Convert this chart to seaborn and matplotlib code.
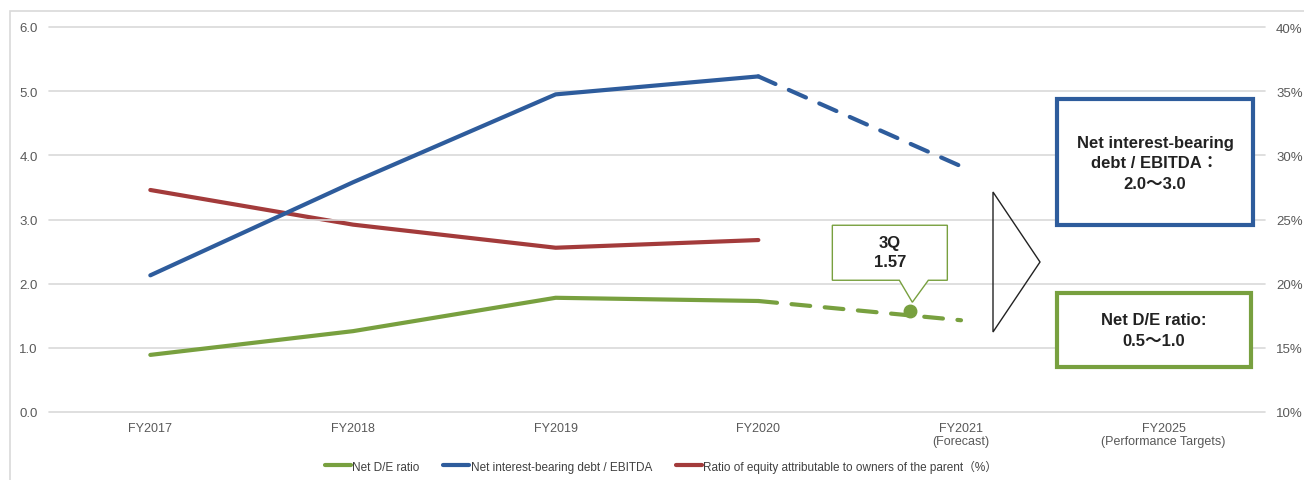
import matplotlib
matplotlib.use("Agg")
import matplotlib.pyplot as plt
import matplotlib.transforms as mtransforms
from matplotlib.patches import Rectangle, Polygon
from matplotlib.lines import Line2D
import seaborn as sns
import pandas as pd

# ---- data ----
categories = ["FY2017", "FY2018", "FY2019", "FY2020", "FY2021\n(Forecast)",
              "FY2025\n(Performance Targets)"]
net_de = [0.89, 1.26, 1.78, 1.73, 1.43]
debt_ebitda = [2.13, 3.58, 4.95, 5.23, 3.83]
equity_ratio = [27.3, 24.6, 22.8, 23.4]
q3_position = 3.75
q3_net_de = 1.57
left_ticks = [0.0, 1.0, 2.0, 3.0, 4.0, 5.0, 6.0]
right_ticks = [10, 15, 20, 25, 30, 35, 40]

GREEN = "#78A03F"
BLUE = "#2E5C9C"
RED = "#A33B3B"
GRID = "#D9D9D9"
TICK = "#595959"

sns.set_theme(style="white")
plt.rcParams["font.family"] = ["Liberation Sans", "Noto Sans CJK JP", "DejaVu Sans"]

W, H = 1304, 481
fig = plt.figure(figsize=(W / 100, H / 100), dpi=100)


def fx(px):
    return px / W


def fy(py):
    return 1 - py / H


ax = fig.add_axes([fx(49), fy(413), fx(1265) - fx(49), fy(28) - fy(413)])
ax2 = ax.twinx()

x_all = list(range(len(categories)))


def series_frames(values):
    # actual results (solid) and forecast segment (dashed)
    actual = pd.DataFrame({"x": x_all[:4], "y": values[:4]})
    forecast = pd.DataFrame({"x": x_all[3:5], "y": values[3:5]})
    return actual, forecast


for vals, color in [(net_de, GREEN), (debt_ebitda, BLUE)]:
    actual, forecast = series_frames(vals)
    sns.lineplot(data=actual, x="x", y="y", ax=ax, color=color, lw=3,
                 solid_capstyle="round")
    sns.lineplot(data=forecast, x="x", y="y", ax=ax, color=color, lw=3,
                 dashes=False, linestyle=(0, (4.5, 3.5)), dash_capstyle="round")

eq_df = pd.DataFrame({"x": x_all[:4], "y": equity_ratio})
sns.lineplot(data=eq_df, x="x", y="y", ax=ax2, color=RED, lw=3,
             solid_capstyle="round")

# 3Q marker
ax.plot([q3_position], [q3_net_de], "o", color=GREEN, ms=9, zorder=5)

# axes styling
ax.set_xlim(-0.5, 5.5)
ax.set_ylim(0, 6)
ax2.set_ylim(10, 40)
ax.set_yticks(left_ticks)
ax.set_yticklabels([f"{v:.1f}" for v in left_ticks])
ax2.set_yticks(right_ticks)
ax2.set_yticklabels([f"{v}%" for v in right_ticks])
ax.set_xticks(x_all)
ax.set_xticklabels(categories, linespacing=1.15)
ax.set_xlabel("")
ax.set_ylabel("")
ax2.set_ylabel("")
for a in (ax, ax2):
    for s in a.spines.values():
        s.set_visible(False)
    a.tick_params(length=0, colors=TICK, labelsize=9.5)
ax.tick_params(axis="x", labelsize=9, pad=7)
ax.tick_params(axis="y", pad=8)
ax2.tick_params(axis="y", pad=8)
ax.grid(axis="y", color=GRID, lw=1.2)
for gl in ax.get_ygridlines():
    gl.set_clip_on(False)
ax.set_axisbelow(True)
ax.set_zorder(ax2.get_zorder() + 1)
ax.patch.set_visible(False)
ax2.patch.set_visible(False)

# callout for the 3Q value, positioned relative to the marker
off = fig.dpi_scale_trans + mtransforms.ScaledTranslation(q3_position, q3_net_de, ax.transData)
callout = [(-0.78, 0.31), (-0.11, 0.31), (0.02, 0.09), (0.18, 0.31), (0.37, 0.31),
           (0.37, 0.86), (-0.78, 0.86)]
ax.add_patch(Polygon(callout, closed=True, transform=off, facecolor="white",
                     edgecolor=GREEN, lw=1, zorder=6, clip_on=False))
ax.text(-0.205, 0.595, f"3Q\n{q3_net_de:.2f}", transform=off, ha="center", va="center",
        fontsize=12, fontweight="bold", color="#222222", linespacing=1.3, zorder=7)

# arrow outline pointing to the targets
fig.patches.append(Polygon([(fx(993), fy(193)), (fx(1040), fy(263)), (fx(993), fy(333))],
                           closed=True, transform=fig.transFigure, facecolor="none",
                           edgecolor="#222222", lw=1))

# target boxes
fig.patches.append(Rectangle((fx(1057), fy(226)), fx(1253) - fx(1057), fy(100) - fy(226),
                             transform=fig.transFigure, facecolor="white",
                             edgecolor=BLUE, lw=3, zorder=3))
fig.text(fx(1155), fy(164), "Net interest-bearing\ndebt / EBITDA：\n2.0～3.0",
         ha="center", va="center", fontsize=12, fontweight="bold", color="#222222",
         linespacing=1.45, zorder=4)
fig.patches.append(Rectangle((fx(1057), fy(368)), fx(1251) - fx(1057), fy(294) - fy(368),
                             transform=fig.transFigure, facecolor="white",
                             edgecolor=GREEN, lw=3, zorder=3))
fig.text(fx(1154), fy(331), "Net D/E ratio:\n0.5～1.0",
         ha="center", va="center", fontsize=12, fontweight="bold", color="#222222",
         linespacing=1.45, zorder=4)

# outer frame
fig.patches.append(Rectangle((fx(10), fy(495)), fx(1320) - fx(10), fy(12) - fy(495),
                             transform=fig.transFigure, facecolor="none",
                             edgecolor=GRID, lw=1.2))

# legend
handles = [Line2D([], [], color=GREEN, lw=3),
           Line2D([], [], color=BLUE, lw=3),
           Line2D([], [], color=RED, lw=3)]
labels = ["Net D/E ratio", "Net interest-bearing debt / EBITDA",
          "Ratio of equity attributable to owners of the parent（%）"]
fig.legend(handles, labels, loc="center", bbox_to_anchor=(fx(661), fy(467)), ncol=3,
           frameon=False, fontsize=8.5, handlelength=2.2, handletextpad=0.1,
           columnspacing=2.0, labelcolor="#404040")

fig.savefig("out.png", dpi=100)
